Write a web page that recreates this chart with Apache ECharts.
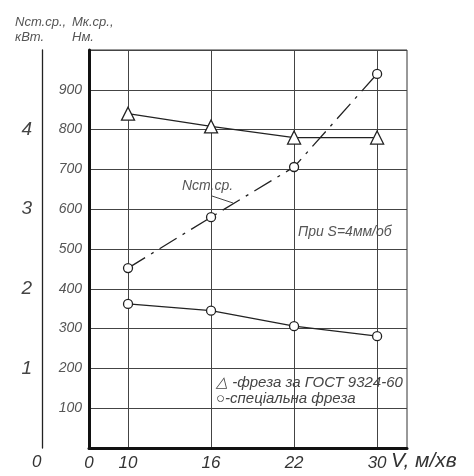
<!DOCTYPE html>
<html><head><meta charset="utf-8">
<script src="https://cdn.jsdelivr.net/npm/echarts@6/dist/echarts.min.js"></script>
<style>html,body{margin:0;padding:0;background:#fff}#c{width:474px;height:476px}</style>
</head><body><div id="c"></div>
<script>
const xLabels = ['10', '16', '22', '30'];
const mkGost = [840, 808, 780, 780];      // Мк.ср., Нм — фреза за ГОСТ 9324-60
const mkSpecial = [362, 345, 306, 281];   // Мк.ср., Нм — спеціальна фреза
const nSt = [2.26, 2.9, 3.53, 4.7];       // Nст.ср., кВт
const F = "Liberation Sans, Arial, sans-serif";
const pts = arr => arr.map((v, i) => [i + 1, v]);

const chart = echarts.init(document.getElementById('c'));
chart.setOption({
  animation: false,
  backgroundColor: '#fff',
  grid: { left: 89, top: 50, right: 67, bottom: 28, show: true, borderColor: '#333', borderWidth: 1 },
  xAxis: {
    type: 'value', min: 0.53, max: 4.36,
    axisLine: { show: true, lineStyle: { color: '#111', width: 3 } },
    axisTick: { show: false, customValues: [1, 2, 3, 4] },
    splitLine: { show: true, lineStyle: { color: '#444', width: 1 } },
    axisLabel: {
      customValues: [0.53, 1, 2, 3, 4],
      formatter: v => v < 0.9 ? '0' : xLabels[Math.round(v) - 1],
      fontFamily: F, fontStyle: 'italic', fontSize: 17, color: '#333', margin: 7
    }
  },
  yAxis: [{
    type: 'value', min: 0, max: 1000, interval: 100,
    axisLine: { show: true, lineStyle: { color: '#111', width: 3 } },
    axisTick: { show: false },
    splitLine: { show: true, lineStyle: { color: '#444', width: 1 } },
    axisLabel: {
      formatter: v => (v === 0 || v === 1000) ? '' : String(v),
      fontFamily: F, fontStyle: 'italic', fontSize: 14, color: '#555', margin: 7
    }
  }, {
    type: 'value', min: 0, max: 5, interval: 1, position: 'left', offset: 47,
    axisLine: { show: true, lineStyle: { color: '#222', width: 1.3 } },
    axisTick: { show: false },
    splitLine: { show: false },
    axisLabel: {
      formatter: v => (v === 0 || v === 5) ? '' : String(v),
      fontFamily: F, fontStyle: 'italic', fontSize: 19, color: '#444', margin: 10
    }
  }],
  series: [{
    type: 'line', data: pts(mkGost), symbol: 'triangle', symbolSize: 13,
    lineStyle: { color: '#222', width: 1.3 },
    itemStyle: { color: '#fff', borderColor: '#222', borderWidth: 1.3 }
  }, {
    type: 'line', data: pts(mkSpecial), symbol: 'circle', symbolSize: 9,
    lineStyle: { color: '#222', width: 1.3 },
    itemStyle: { color: '#fff', borderColor: '#222', borderWidth: 1.3 }
  }, {
    type: 'line', yAxisIndex: 1, data: pts(nSt), symbol: 'circle', symbolSize: 9,
    lineStyle: { color: '#222', width: 1.3, type: [20, 7, 3, 7] },
    itemStyle: { color: '#fff', borderColor: '#222', borderWidth: 1.3 }
  }],
  graphic: [
    { type: 'text', left: 15, top: 16, style: { text: 'Nст.ср.,', font: 'italic 13px ' + F, fill: '#555' } },
    { type: 'text', left: 15, top: 31, style: { text: 'кВт.', font: 'italic 13px ' + F, fill: '#555' } },
    { type: 'text', left: 72, top: 16, style: { text: 'Мк.ср.,', font: 'italic 13px ' + F, fill: '#555' } },
    { type: 'text', left: 72, top: 31, style: { text: 'Нм.', font: 'italic 13px ' + F, fill: '#555' } },
    { type: 'text', left: 32, top: 454, style: { text: '0', font: 'italic 17px ' + F, fill: '#333' } },
    { type: 'text', left: 391, top: 451, style: { text: 'V, м/хв', font: 'italic 21px ' + F, fill: '#333' } },
    { type: 'text', left: 182, top: 179, style: { text: 'Nст.ср.', font: 'italic 14px ' + F, fill: '#555' } },
    { type: 'line', shape: { x1: 212, y1: 196, x2: 233, y2: 203 }, style: { stroke: '#444', lineWidth: 1 } },
    { type: 'text', left: 298, top: 225, style: { text: 'При S=4мм/об', font: 'italic 14px ' + F, fill: '#555' } },
    { type: 'text', left: 216, top: 375, style: { text: '△ -фреза за ГОСТ 9324-60', font: 'italic 15px ' + F, fill: '#444' } },
    { type: 'text', left: 216, top: 391, style: { text: '○-спеціальна фреза', font: 'italic 15px ' + F, fill: '#444' } }
  ]
});
</script></body></html>
